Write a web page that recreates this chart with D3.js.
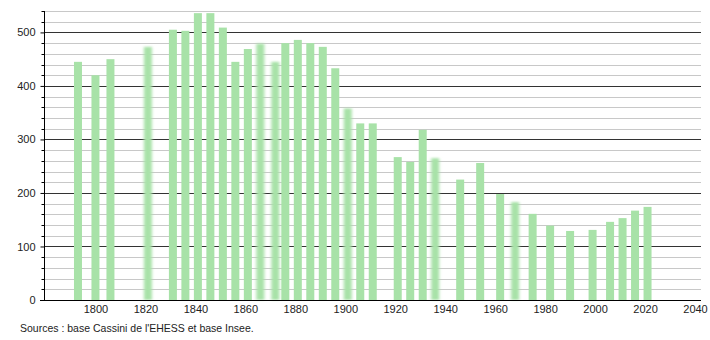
<!DOCTYPE html>
<html>
<head>
<meta charset="utf-8">
<script src="https://cdn.jsdelivr.net/npm/d3@7"></script>
<style>
  body { margin: 0; background: #fff; }
  svg text { font-family: "Liberation Sans", Arial, sans-serif; font-size: 11px; fill: #222; }
</style>
</head>
<body>
<div id="chart"></div>
<script>
// census years and population
const years = [1793, 1800, 1806, 1821, 1831, 1836, 1841, 1846, 1851, 1856, 1861, 1866,
  1872, 1876, 1881, 1886, 1891, 1896, 1901, 1906, 1911, 1921, 1926, 1931, 1936, 1946,
  1954, 1962, 1968, 1975, 1982, 1990, 1999, 2006, 2011, 2016, 2021];
const population = [445, 420, 450, 473, 505, 503, 536, 536, 509, 445, 469, 479,
  445, 480, 486, 480, 473, 433, 358, 330, 330, 267, 258, 318, 265, 225,
  256, 198, 183, 161, 139, 129, 131, 146, 153, 167, 174];
const xTicks = [1800, 1820, 1840, 1860, 1880, 1900, 1920, 1940, 1960, 1980, 2000, 2020, 2040];
const yTicks = [0, 100, 200, 300, 400, 500];
// bars drawn soft in the original
const softYears = [1821, 1866, 1872, 1901, 1936, 1968];

const width = 710, height = 340;
const svg = d3.select("#chart").append("svg")
  .attr("width", width).attr("height", height);

const defs = svg.append("defs");
defs.append("filter").attr("id", "soft").attr("x", "-60%").attr("width", "220%")
  .append("feGaussianBlur").attr("stdDeviation", "1.8 0.8");

const x = d3.scaleLinear().domain([1779.4, 2042.4]).range([44, 701]);
const y = d3.scaleLinear().domain([0, 540]).range([300, 11]);

// grid lines every 20, darker every 100
const gridVals = d3.range(20, 541, 20);
svg.append("g").selectAll("line")
  .data(gridVals)
  .enter().append("line")
  .attr("x1", 44).attr("x2", 701)
  .attr("y1", d => Math.round(y(d)) + 0.5)
  .attr("y2", d => Math.round(y(d)) + 0.5)
  .attr("stroke", d => d % 100 === 0 ? "#333" : "#c8c8c8")
  .attr("stroke-width", 1);

// bars
const data = years.map((yr, i) => ({ year: yr, value: population[i] }));
const barW = 8;
svg.append("g").selectAll("rect")
  .data(data)
  .enter().append("rect")
  .attr("x", d => x(d.year) - barW / 2)
  .attr("y", d => y(d.value))
  .attr("width", barW)
  .attr("height", d => y(0) - y(d.value))
  .attr("fill", "#a8e2a8")
  .attr("filter", d => softYears.includes(d.year) ? "url(#soft)" : null);

// y axis
const yAxis = svg.append("g")
  .attr("transform", "translate(44.5,0)")
  .call(d3.axisLeft(y).tickValues(yTicks).tickSize(4).tickPadding(5).tickFormat(d3.format("d")));
yAxis.select(".domain").attr("d", `M0,${y(540)}V${y(0)}`).attr("stroke", "#000");
yAxis.selectAll(".tick line").attr("stroke", "#000");
yAxis.selectAll(".tick text").style("font-size", "11px").attr("fill", "#222");
// minor ticks
yAxis.append("g").selectAll("line")
  .data(gridVals.filter(d => d % 100 !== 0))
  .enter().append("line")
  .attr("x1", -3).attr("x2", 0)
  .attr("y1", d => Math.round(y(d)) + 0.5)
  .attr("y2", d => Math.round(y(d)) + 0.5)
  .attr("stroke", "#000");

// x axis
const xAxis = svg.append("g")
  .attr("transform", "translate(0,300.5)")
  .call(d3.axisBottom(x).tickValues(xTicks).tickSize(0).tickPadding(5).tickFormat(d3.format("d")));
xAxis.select(".domain").attr("d", "M40,0H701").attr("stroke", "#000");
xAxis.selectAll(".tick text").style("font-size", "11px").attr("fill", "#222");

svg.append("text")
  .attr("x", 20).attr("y", 332)
  .style("font-size", "10.5px")
  .text("Sources : base Cassini de l'EHESS et base Insee.");
</script>
</body>
</html>
